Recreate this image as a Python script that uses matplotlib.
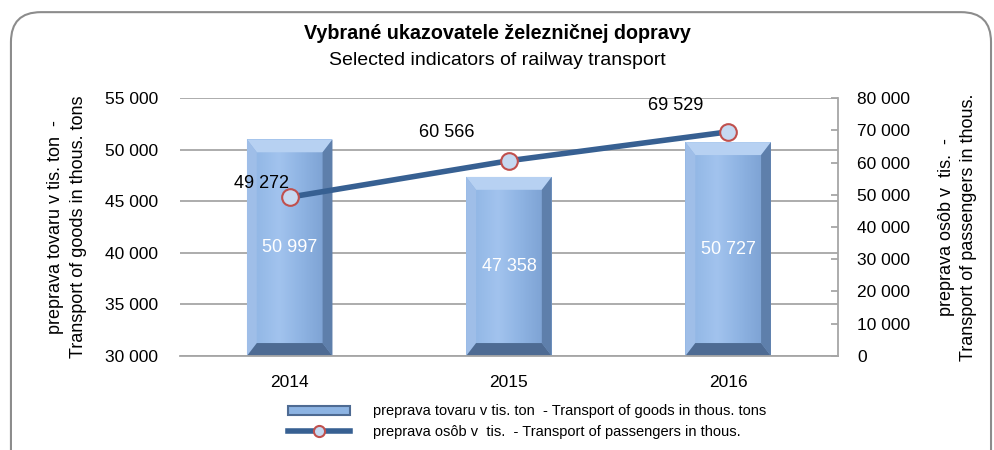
import numpy as np
import matplotlib.pyplot as plt
from matplotlib.patches import Polygon, Patch, FancyBboxPatch
from matplotlib.lines import Line2D
from matplotlib.colors import LinearSegmentedColormap
from matplotlib.ticker import FuncFormatter

plt.rcParams['font.family'] = ['Liberation Sans', 'DejaVu Sans']

years = ['2014', '2015', '2016']
goods = [50997, 47358, 50727]        # thous. tons (left axis)
passengers = [49272, 60566, 69529]   # thous. (right axis)

goods_label = 'preprava tovaru v tis. ton  - Transport of goods in thous. tons'
pass_label = 'preprava osôb v  tis.  - Transport of passengers in thous.'

# label offsets (points) for line data labels
pass_offsets = [(-20, 10), (-45, 20), (-38, 19)]

BASE = 30000
fmt = FuncFormatter(lambda v, p: f'{int(v):,}'.replace(',', ' '))
face_cmap = LinearSegmentedColormap.from_list('face', ['#93b8e6', '#a2c3ee', '#8fb4e3', '#7fa4d5'])

fig = plt.figure(figsize=(9.95, 4.5), dpi=100)
border = FancyBboxPatch((0.011, -0.2), 0.985, 1.173, transform=fig.transFigure,
                        boxstyle='round,pad=0,rounding_size=0.03',
                        facecolor='none', edgecolor='#8c8c8c', lw=1.5,
                        mutation_aspect=995 / 450, zorder=-1)
fig.patches.append(border)

ax = fig.add_axes([0.181, 0.209, 0.661, 0.573])
ax.set_zorder(1)
ax.patch.set_visible(False)
x = np.arange(len(years))
width = 0.39

ax.set_xlim(-0.5, 2.5)
ax.set_ylim(BASE, 55000)
ax.set_yticks(np.arange(BASE, 55001, 5000))
ax.yaxis.set_major_formatter(fmt)
ax.grid(axis='y', color='#a6a6a6', lw=1.3)
ax.set_axisbelow(True)
for s in ['top', 'left', 'right']:
    ax.spines[s].set_visible(False)
ax.spines['bottom'].set_color('#a6a6a6')
ax.spines['bottom'].set_linewidth(1.3)
ax.tick_params(axis='y', length=0, pad=16, labelsize=12.5)
ax.tick_params(axis='x', length=0, pad=14, labelsize=12.5)
ax.set_xticks(x)
ax.set_xticklabels(years)

bars = ax.bar(x, np.array(goods) - BASE, width, bottom=BASE, color='#8db4e3',
              zorder=2, label=goods_label)

# bevel effect
bx = 0.045
by = 1250
grad = np.linspace(0, 1, 64).reshape(1, -1)
for xi, v in zip(x, goods):
    l, r = xi - width / 2, xi + width / 2
    b, t = BASE, v
    ax.imshow(grad, cmap=face_cmap, aspect='auto', zorder=2.1,
              extent=(l + bx, r - bx, b + by, t - by), interpolation='bilinear')
    ax.add_patch(Polygon([(l, t), (r, t), (r - bx, t - by), (l + bx, t - by)],
                         closed=True, color='#b7d1f2', zorder=2.2, lw=0))
    ax.add_patch(Polygon([(l, b), (l, t), (l + bx, t - by), (l + bx, b + by)],
                         closed=True, color='#9fbee8', zorder=2.2, lw=0))
    ax.add_patch(Polygon([(r, b), (r, t), (r - bx, t - by), (r - bx, b + by)],
                         closed=True, color='#5e7fab', zorder=2.2, lw=0))
    ax.add_patch(Polygon([(l, b), (r, b), (r - bx, b + by), (l + bx, b + by)],
                         closed=True, color='#4e6b93', zorder=2.2, lw=0))
    ax.text(xi, (b + t) / 2, f'{v:,}'.replace(',', ' '), ha='center', va='center',
            color='white', fontsize=13, zorder=3)
ax.set_xlim(-0.5, 2.5)
ax.set_ylim(BASE, 55000)

ax2 = ax.twinx()
ax2.set_zorder(2)
ax2.set_ylim(0, 80000)
ax2.set_yticks(np.arange(0, 80001, 10000))
ax2.yaxis.set_major_formatter(fmt)
for s in ['top', 'left', 'bottom']:
    ax2.spines[s].set_visible(False)
ax2.spines['right'].set_color('#a6a6a6')
ax2.spines['right'].set_linewidth(1.3)
ax2.tick_params(axis='y', direction='in', length=5, width=1.3, color='#a6a6a6',
                pad=14, labelsize=12.5)
ax2.plot(x, passengers, color='#376092', lw=4, marker='o', markersize=12,
         markerfacecolor='#c6d9f1', markeredgecolor='#c0504d', markeredgewidth=1.5,
         zorder=5)
for xi, v, off in zip(x, passengers, pass_offsets):
    ax2.annotate(f'{v:,}'.replace(',', ' '), (xi, v), xytext=off,
                 textcoords='offset points', ha='center', va='center', fontsize=13)

ax.set_ylabel('preprava tovaru v tis. ton  -\nTransport of goods in thous. tons',
              fontsize=13, labelpad=13, linespacing=1.4)
ax2.set_ylabel('preprava osôb v  tis.  -\nTransport of passengers in thous.',
               fontsize=13, labelpad=20, linespacing=1.4)

fig.text(0.5, 0.925, 'Vybrané ukazovatele železničnej dopravy', ha='center',
         va='center', fontsize=14.2, fontweight='bold')
fig.text(0.5, 0.866, 'Selected indicators of railway transport', ha='center',
         va='center', fontsize=14)

handles = [Patch(facecolor='#8db4e3', edgecolor='#4e6b93', lw=1.5),
           Line2D([0], [0], color='#376092', lw=4, marker='o', markersize=8,
                  markerfacecolor='#c6d9f1', markeredgecolor='#c0504d',
                  markeredgewidth=1.5)]
fig.legend(handles, [goods_label, pass_label], loc='center',
           bbox_to_anchor=(0.53, 0.063), frameon=False, fontsize=10.5,
           handlelength=4.2, handleheight=0.6, handletextpad=1.6, labelspacing=0.45)

fig.savefig('out.png', dpi=100)
